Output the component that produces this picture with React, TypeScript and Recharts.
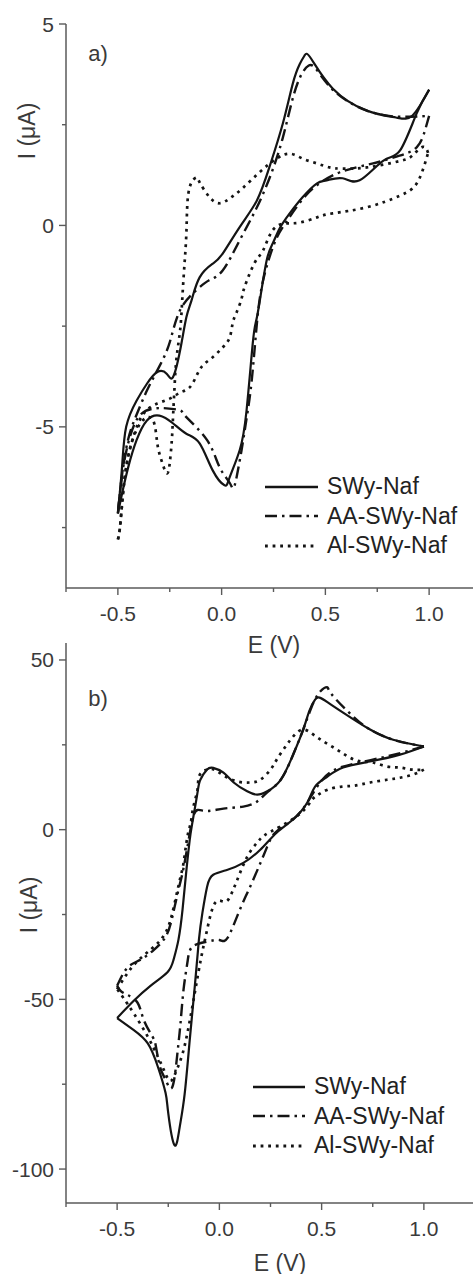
import React from 'react';
import { LineChart, Line, XAxis, YAxis, Legend } from 'recharts';

// ---------- data (E in V, I in µA) ----------
const seriesNames = ['SWy-Naf', 'AA-SWy-Naf', 'Al-SWy-Naf'];

const xTicks = [-0.75, -0.5, -0.25, 0, 0.25, 0.5, 0.75, 1.0, 1.25];
const xMajorTicks = [-0.5, 0, 0.5, 1.0];
const xDomain = [-0.75, 1.25];

const yTicksA = [-7.5, -5, -2.5, 0, 2.5, 5];
const yMajorA = [-5, 0, 5];
const yDomainA = [-9, 5];

const yTicksB = [-100, -75, -50, -25, 0, 25, 50];
const yMajorB = [-100, -50, 0, 50];
const yDomainB = [-110, 55];

// Panel a) SWy-Naf (solid)
const aSWy = [
  [-0.5, -7.15], [-0.48, -6.0], [-0.46, -5.0], [-0.41, -4.35], [-0.36, -3.93], [-0.31, -3.64],
  [-0.265, -3.68], [-0.235, -3.77], [-0.2, -3.1], [-0.17, -2.28], [-0.145, -1.86], [-0.106, -1.29],
  [-0.043, -0.95], [0.005, -0.7], [0.087, -0.04], [0.17, 0.62], [0.23, 1.44], [0.295, 2.53],
  [0.343, 3.52], [0.376, 4.0], [0.4, 4.22], [0.43, 4.15], [0.535, 3.4], [0.7, 2.85], [0.84, 2.68],
  [0.92, 2.73], [1.0, 3.37],
  [0.94, 2.78], [0.86, 1.86], [0.78, 1.61], [0.665, 1.12], [0.583, 1.17], [0.506, 1.12],
  [0.458, 1.04], [0.39, 0.7], [0.328, 0.3], [0.28, -0.07], [0.246, -0.45], [0.217, -0.87],
  [0.183, -1.9], [0.165, -2.4], [0.15, -2.93], [0.12, -4.6], [0.087, -5.58], [0.039, -6.25],
  [0.014, -6.45], [-0.043, -6.08], [-0.106, -5.41], [-0.17, -5.17], [-0.235, -4.91], [-0.3, -4.72],
  [-0.36, -4.84], [-0.41, -5.33], [-0.45, -6.0], [-0.48, -6.66], [-0.5, -7.15],
];

// Panel a) AA-SWy-Naf (dash-dot)
const aAA = [
  [-0.5, -7.15], [-0.48, -6.2], [-0.45, -5.3], [-0.41, -4.7], [-0.36, -4.1], [-0.3, -3.5],
  [-0.25, -2.9], [-0.2, -2.1], [-0.12, -1.6], [-0.06, -1.36], [0.005, -1.12], [0.087, -0.37],
  [0.17, 0.45], [0.24, 1.3], [0.295, 2.18], [0.34, 3.1], [0.38, 3.7], [0.42, 3.97], [0.46, 3.85],
  [0.55, 3.3], [0.7, 2.85], [0.85, 2.7], [1.0, 2.72],
  [0.98, 2.36], [0.94, 1.94], [0.85, 1.72], [0.73, 1.54], [0.57, 1.32], [0.46, 1.0], [0.39, 0.65],
  [0.3, 0.0], [0.25, -0.5], [0.2, -1.36], [0.17, -2.43], [0.145, -3.85], [0.12, -4.8],
  [0.096, -5.58], [0.063, -6.45], [0.04, -6.4], [-0.01, -6.0], [-0.07, -5.33], [-0.17, -4.76],
  [-0.2, -4.59], [-0.265, -4.54], [-0.33, -4.55], [-0.4, -4.75], [-0.45, -5.4], [-0.48, -6.2],
  [-0.5, -7.15],
];

// Panel a) Al-SWy-Naf (dotted)
const aAl = [
  [-0.5, -7.8], [-0.49, -7.5], [-0.477, -6.75], [-0.46, -6.0], [-0.43, -5.33], [-0.38, -4.7],
  [-0.31, -4.42], [-0.25, -4.3], [-0.2, -4.15], [-0.154, -4.02], [-0.12, -3.72], [-0.09, -3.47],
  [-0.043, -3.27], [0.005, -3.03], [0.039, -2.78], [0.053, -2.43], [0.072, -2.16], [0.096, -1.82],
  [0.11, -1.54], [0.16, -0.92], [0.2, -0.62], [0.246, -0.12], [0.31, 0.05], [0.376, 0.07],
  [0.46, 0.2], [0.535, 0.3], [0.7, 0.45], [0.86, 0.74], [0.94, 1.04], [0.98, 1.54], [0.995, 1.8],
  [0.97, 1.95], [0.92, 1.74], [0.86, 1.6], [0.7, 1.44], [0.58, 1.41], [0.52, 1.44], [0.458, 1.54],
  [0.39, 1.66], [0.33, 1.78], [0.265, 1.66], [0.183, 1.32], [0.1, 0.92], [0.039, 0.67],
  [-0.01, 0.55], [-0.058, 0.7], [-0.106, 1.07], [-0.12, 1.19], [-0.145, 1.07], [-0.164, 0.62],
  [-0.17, -0.2], [-0.18, -1.04], [-0.19, -1.86], [-0.2, -2.6], [-0.217, -3.27], [-0.227, -4.02],
  [-0.235, -4.84], [-0.24, -5.33], [-0.25, -5.9], [-0.265, -6.15], [-0.29, -5.83], [-0.31, -5.41],
  [-0.33, -4.84], [-0.38, -4.84], [-0.43, -5.33], [-0.46, -6.0], [-0.477, -6.75], [-0.49, -7.5],
  [-0.5, -7.8],
];

// Panel b) SWy-Naf (solid)
const bSWy = [
  [-0.5, -55.5], [-0.42, -50.5], [-0.337, -46], [-0.254, -42], [-0.224, -38.3], [-0.2, -32.4],
  [-0.18, -23.5], [-0.163, -13], [-0.145, -3], [-0.132, 2.1], [-0.107, 10.9], [-0.093, 14.7],
  [-0.06, 17.7], [-0.03, 18.2], [0.02, 16.8], [0.07, 13.9], [0.136, 11.3], [0.185, 10.3],
  [0.234, 11.3], [0.3, 14.7], [0.36, 22], [0.41, 29.5], [0.44, 35], [0.468, 38.3], [0.49, 38.9],
  [0.53, 37.5], [0.605, 34.5], [0.737, 29.5], [0.85, 26.5], [1.0, 24.5],
  [0.883, 22.1], [0.737, 20.1], [0.605, 18.3], [0.527, 15.6], [0.468, 12.7], [0.43, 8.0],
  [0.36, 3.0], [0.28, -0.9], [0.2, -5.9], [0.117, -9.8], [0.04, -11.8], [-0.03, -13.3],
  [-0.06, -16.8], [-0.083, -24.5], [-0.1, -32.4], [-0.12, -46], [-0.145, -62], [-0.17, -78],
  [-0.195, -88], [-0.22, -92.9], [-0.25, -83.5], [-0.263, -77.6], [-0.3, -70], [-0.35, -63],
  [-0.42, -59], [-0.5, -55.5],
];

// Panel b) AA-SWy-Naf (dash-dot)
const bAA = [
  [-0.5, -46], [-0.45, -40.7], [-0.385, -38.3], [-0.32, -35.4], [-0.263, -31.6], [-0.23, -25.7],
  [-0.2, -17.7], [-0.18, -12.7], [-0.156, -5], [-0.132, 2.9], [-0.107, 5.8], [-0.06, 5.5],
  [0.02, 6.2], [0.117, 6.8], [0.185, 8.3], [0.234, 11], [0.3, 14.7], [0.36, 22], [0.41, 29.5],
  [0.45, 36], [0.49, 40.5], [0.527, 42], [0.55, 39.8], [0.655, 33.3], [0.737, 29.5], [0.85, 26.5],
  [1.0, 24.5],
  [0.88, 22.5], [0.74, 20.5], [0.59, 18.3], [0.5, 14.5], [0.43, 8], [0.36, 3], [0.28, -0.5],
  [0.234, -5], [0.166, -14.7], [0.1, -23.6], [0.04, -31.9], [0.0, -32.5], [-0.06, -33],
  [-0.132, -34.5], [-0.156, -39], [-0.175, -47], [-0.19, -57], [-0.205, -65.8], [-0.23, -75.8],
  [-0.263, -73.7], [-0.29, -70], [-0.31, -64], [-0.327, -61], [-0.37, -56], [-0.4, -51],
  [-0.45, -48.7], [-0.483, -47.5], [-0.5, -46],
];

// Panel b) Al-SWy-Naf (dotted)
const bAl = [
  [-0.5, -47], [-0.42, -40], [-0.33, -35], [-0.26, -30], [-0.22, -22], [-0.19, -13.9],
  [-0.175, -9.7], [-0.156, -2], [-0.14, 2], [-0.127, 6.8], [-0.107, 11.8], [-0.1, 15.6],
  [-0.07, 17.5], [-0.03, 17.8], [0.02, 16], [0.088, 14.2], [0.15, 13.9], [0.2, 14.7], [0.25, 17.7],
  [0.28, 20.6], [0.32, 24.2], [0.356, 27.1], [0.405, 29.5], [0.46, 28], [0.517, 25.7],
  [0.575, 23.6], [0.63, 21.5], [0.69, 20.1], [0.75, 19.8], [0.82, 18.6], [0.883, 18.3],
  [0.94, 17.7], [1.0, 17.7],
  [0.946, 16.2], [0.883, 15.3], [0.82, 14.7], [0.737, 13.9], [0.663, 13], [0.6, 12.7], [0.53, 11.8],
  [0.483, 10.3], [0.453, 8.8], [0.4, 5], [0.3, 1], [0.224, -1.5], [0.185, -3.8], [0.136, -8],
  [0.088, -14.7], [0.063, -18.3], [0.03, -21.2], [-0.02, -21.5], [-0.06, -29.5], [-0.09, -38],
  [-0.12, -48], [-0.15, -58], [-0.18, -66], [-0.21, -71], [-0.24, -74], [-0.27, -71], [-0.3, -67],
  [-0.35, -61], [-0.42, -54], [-0.47, -49.5], [-0.5, -47],
];

// ---------- styling ----------
const FONT = '"Liberation Sans", Arial, Helvetica, sans-serif';
const TEXT = '#3a3a3a';
const AXIS = '#5a5a5a';
const INK = '#141414';

const styles = [
  { dash: undefined as string | undefined, width: 2.2 },
  { dash: '12 5 2.5 5', width: 2.4 },
  { dash: '2.8 4.8', width: 2.7 },
];

const toPts = (arr: number[][]) => arr.map(([e, i]) => ({ e, i }));
const isMajor = (v: number, majors: number[]) => majors.some((m) => Math.abs(m - v) < 1e-9);

// split a closed CV loop at its switching potential into the forward and reverse sweeps
const splitSweeps = (arr: number[][]) => {
  let imax = 0;
  arr.forEach((p, k) => { if (p[0] > arr[imax][0]) imax = k; });
  return [arr.slice(0, imax + 1), arr.slice(imax)];
};

const XTick = (props: any) => {
  const { x, y, payload } = props;
  const v = payload.value as number;
  const major = isMajor(v, xMajorTicks);
  return (
    <g>
      <line x1={x} y1={y} x2={x} y2={y + (major ? 7 : 4)} stroke={AXIS} strokeWidth={1.4} />
      {major && (
        <text x={x} y={y + 25} textAnchor="middle" dominantBaseline="central"
          fontFamily={FONT} fontSize={21} fill={TEXT}>
          {v.toFixed(1)}
        </text>
      )}
    </g>
  );
};

const makeYTick = (majors: number[]) => (props: any) => {
  const { x, y, payload } = props;
  const v = payload.value as number;
  const major = isMajor(v, majors);
  return (
    <g>
      <line x1={x} y1={y} x2={x - (major ? 7 : 4)} y2={y} stroke={AXIS} strokeWidth={1.4} />
      {major && (
        <text x={x - 12} y={y} textAnchor="end" dominantBaseline="central"
          fontFamily={FONT} fontSize={21} fill={TEXT}>
          {String(v)}
        </text>
      )}
    </g>
  );
};

const LegendBox = ({ lineLen, gap }: { lineLen: number; gap: number }) => (
  <div style={{ fontFamily: FONT }}>
    {seriesNames.map((name, k) => (
      <div key={name} style={{ display: 'flex', alignItems: 'center', height: 29.5 }}>
        <svg width={lineLen} height={10} style={{ display: 'block' }}>
          <line x1={0} y1={5} x2={lineLen} y2={5} stroke={INK}
            strokeWidth={styles[k].width + 0.3} strokeDasharray={styles[k].dash} />
        </svg>
        <span style={{ marginLeft: gap, fontSize: 23, color: '#222', lineHeight: '29px', whiteSpace: 'nowrap' }}>
          {name}
        </span>
      </div>
    ))}
  </div>
);

type PanelProps = {
  series: number[][][];
  yTicks: number[];
  yMajors: number[];
  yDomain: number[];
  width: number;
  height: number;
  top: number;
  bottom: number;
  legendLeft: number;
  legendTop: number;
  legendLine: number;
};

const Panel = (p: PanelProps) => {
  const YT = makeYTick(p.yMajors);
  const lines: React.ReactNode[] = [];
  p.series.forEach((s, k) => {
    splitSweeps(s).forEach((branch, b) => {
      lines.push(
        <Line key={`${seriesNames[k]}-${b}`} name={seriesNames[k]} data={toPts(branch)} dataKey="i"
          type="natural" stroke={INK} strokeWidth={styles[k].width}
          strokeDasharray={styles[k].dash} dot={false} activeDot={false}
          legendType="none" isAnimationActive={false} strokeLinejoin="round" />
      );
    });
  });
  return (
    <LineChart width={p.width} height={p.height}
      margin={{ top: p.top, right: 4, left: 0, bottom: p.bottom }}>
      <XAxis type="number" dataKey="e" domain={xDomain} ticks={xTicks} interval={0}
        allowDataOverflow height={40} tickSize={0} tickMargin={0} tickLine={false}
        axisLine={{ stroke: AXIS, strokeWidth: 1.5 }} tick={<XTick />} />
      <YAxis type="number" dataKey="i" domain={p.yDomain} ticks={p.yTicks} interval={0}
        allowDataOverflow width={66} tickSize={0} tickMargin={0} tickLine={false}
        axisLine={{ stroke: AXIS, strokeWidth: 1.5 }} tick={<YT />} />
      {lines}
      <Legend layout="vertical" align="center" verticalAlign="middle"
        wrapperStyle={{ left: p.legendLeft, top: p.legendTop, width: 220 }}
        content={() => <LegendBox lineLen={p.legendLine} gap={9} />} />
    </LineChart>
  );
};

const textBase: React.CSSProperties = {
  position: 'absolute',
  fontFamily: FONT,
  color: TEXT,
  whiteSpace: 'nowrap',
  lineHeight: 1,
};

const Centered = ({ x, y, size, rotate, children }: any) => (
  <div style={{ ...textBase, left: x, top: y, fontSize: size,
    transform: `translate(-50%, -50%)${rotate ? ' rotate(-90deg)' : ''}` }}>
    {children}
  </div>
);

export default function App() {
  return (
    <div style={{ position: 'absolute', left: 0, top: 0, width: 473, height: 1274,
      overflow: 'hidden', background: '#fff' }}>
      <div style={{ position: 'absolute', left: 0, top: 0 }}>
        <Panel series={[aSWy, aAA, aAl]} yTicks={yTicksA} yMajors={yMajorA} yDomain={yDomainA}
          width={485} height={660} top={24} bottom={32}
          legendLeft={265} legendTop={472} legendLine={53} />
      </div>
      <div style={{ position: 'absolute', left: 0, top: 620 }}>
        <Panel series={[bSWy, bAA, bAl]} yTicks={yTicksB} yMajors={yMajorB} yDomain={yDomainB}
          width={479} height={654} top={23} bottom={31}
          legendLeft={253} legendTop={452} legendLine={52} />
      </div>
      <Centered x={98} y={54} size={22}>a)</Centered>
      <Centered x={98} y={699} size={22}>b)</Centered>
      <Centered x={274} y={645} size={23}>E (V)</Centered>
      <Centered x={280} y={1263} size={23}>E (V)</Centered>
      <Centered x={27} y={131} size={23} rotate>I (μA)</Centered>
      <Centered x={29} y={905} size={23} rotate>I (μA)</Centered>
    </div>
  );
}
